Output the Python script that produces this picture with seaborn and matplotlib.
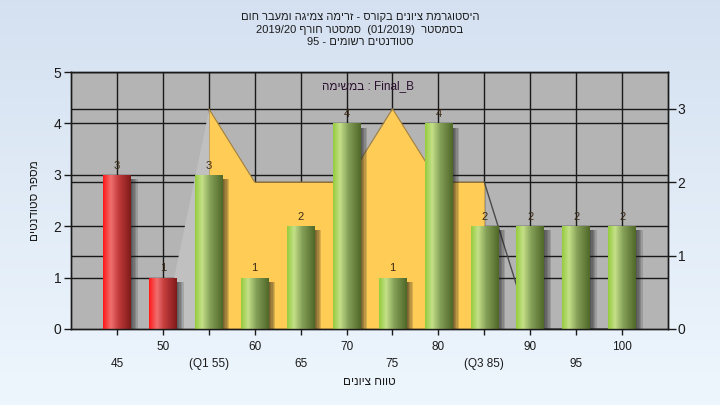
import re
import numpy as np
import pandas as pd
import matplotlib
matplotlib.use('Agg')
import matplotlib.pyplot as plt
import matplotlib.patheffects as pe
import matplotlib.transforms as mtransforms
import seaborn as sns

# data
score_labels = ['45', '50', '(Q1 55)', '60', '65', '70', '75', '80', '(Q3 85)', '90', '95', '100']
score_values = [45, 50, 55, 60, 65, 70, 75, 80, 85, 90, 95, 100]
counts = [3, 1, 3, 1, 2, 4, 1, 4, 2, 2, 2, 2]
dist_values = [0, 0, 3, 2, 2, 2, 3, 2, 2, 0, 0, 0]   # right axis
q1_idx, q3_idx = 2, 8

title_lines = ['היסטוגרמת ציונים בקורס - זרימה צמיגה ומעבר חום',
               'בסמסטר  (01/2019)  סמסטר חורף 2019/20',
               'סטודנטים רשומים - 95']
task_text = 'Final_B : במשימה'
x_title = 'טווח ציונים'
y_title = 'מספר סטודנטים'


def rtl(s):
    # matplotlib has no bidi support: build the visual order by hand
    r = s[::-1].translate(str.maketrans('()', ')('))
    return re.sub(r'[A-Za-z0-9_/.]+', lambda m: m.group(0)[::-1], r)


sns.set_theme(style='white')
plt.rcParams['font.family'] = ['Liberation Sans', 'DejaVu Sans']

fig = plt.figure(figsize=(7.2, 4.05), dpi=100)

# figure background gradient
bg = fig.add_axes([0, 0, 1, 1], zorder=-10)
top_c = np.array([0.835, 0.882, 0.945])
bot_c = np.array([0.933, 0.965, 0.992])
g = np.linspace(0, 1, 256)[:, None, None]
bg.imshow(top_c + (bot_c - top_c) * g, aspect='auto', extent=[0, 1, 0, 1])
bg.axis('off')

ax = fig.add_axes([71 / 720, 1 - 329 / 405, 597 / 720, 257 / 405])
ax.set_facecolor('#b4b4b4')

df = pd.DataFrame({'score': score_labels, 'count': counts,
                   'fail': [v < 55 for v in score_values]})
colors = ['#e02020' if f else '#8cb048' for f in df['fail']]
sns.barplot(data=df, x='score', y='count', hue='score', palette=colors,
            legend=False, width=0.6, saturation=1, linewidth=0, ax=ax, zorder=3)
bars = sorted(ax.patches, key=lambda p: p.get_x())

ax2 = ax.twinx()
ax2.set_ylim(0, 3.5)
ax2.set_yticks([0, 1, 2, 3])

# grid: left scale, right scale and categories
x = np.arange(len(score_labels))
for v in range(1, 6):
    ax.axhline(v, color='k', lw=1, zorder=0.5)
for i in x:
    ax.axvline(i, color='k', lw=1, zorder=0.5)
blend = mtransforms.blended_transform_factory(ax.transAxes, ax2.transData)
for v in [1, 2, 3]:
    ax.plot([0, 1], [v, v], transform=blend, color='k', lw=1, zorder=0.5)

# distribution area on the right scale
dist = np.array(dist_values, dtype=float)
mid = slice(q1_idx, q3_idx + 1)
ax.fill_between(x[mid], 0, dist[mid], transform=ax2.transData,
                color='#ffcc55', lw=0, zorder=1)
ax.plot(x[mid], dist[mid], transform=ax2.transData, color='#a08040', lw=0.8, zorder=1.1)
ax.fill_between(x[:q1_idx + 1], 0, dist[:q1_idx + 1], transform=ax2.transData,
                color='#c0c0c0', lw=0, zorder=1)
ax.plot(x[q3_idx:], dist[q3_idx:], transform=ax2.transData, color='#4a4a4a', lw=1, zorder=1.1)


def cylinder(stops):
    pos = [s[0] for s in stops]
    t = np.linspace(0, 1, 64)
    cols = np.array([s[1] for s in stops]) / 255.0
    img = np.stack([np.interp(t, pos, cols[:, c]) for c in range(3)], axis=-1)
    return img[None, :, :]


red_img = cylinder([(0, (255, 24, 24)), (0.28, (240, 112, 112)), (0.55, (196, 60, 60)), (1, (128, 26, 26))])
green_img = cylinder([(0, (150, 204, 62)), (0.25, (196, 224, 136)), (0.55, (132, 160, 88)), (1, (80, 104, 40))])

shadow = [pe.SimplePatchShadow(offset=(k, -3), shadow_rgbFace='#1a1a1a', alpha=0.16)
          for k in (1, 2, 3, 4, 5)] + [pe.Normal()]
for patch, fail in zip(bars, df['fail']):
    x0, w, h = patch.get_x(), patch.get_width(), patch.get_height()
    patch.set_path_effects(shadow)
    im = ax.imshow(red_img if fail else green_img, extent=[x0, x0 + w, 0, h],
                   aspect='auto', interpolation='bilinear', zorder=3.2)
    im.set_clip_path(patch)

for cont in ax.containers:
    ax.bar_label(cont, padding=3, fontsize=8, color='#3c2a14', zorder=5)

ax.set_xlim(-1, 12)
ax.set_ylim(0, 5)
ax.set_yticks(range(6))
ax.set_xticks(x)
ax.set_xticklabels(score_labels, fontsize=8.5)

ax.tick_params(axis='x', bottom=True, length=4, width=1, color='k', labelcolor='k')
ax.tick_params(axis='y', left=True, length=5, width=1, color='k', labelcolor='k',
               labelsize=10, pad=2)
ax2.tick_params(axis='y', right=True, length=6, width=1, color='k', labelcolor='k',
                labelsize=10, pad=1)
for i, t in enumerate(ax.xaxis.get_major_ticks()):
    t.set_pad(17 if i % 2 == 0 else 5)

for a in (ax, ax2):
    for s in a.spines.values():
        s.set_color('k')
        s.set_linewidth(1)

ax.set_xlabel(rtl(x_title), fontsize=8.5, color='k')
ax.xaxis.set_label_coords(0.5, -0.183)
ax.set_ylabel(rtl(y_title), fontsize=8.5, color='k')
ax.yaxis.set_label_coords(-0.05, 0.5)
ax2.set_ylabel('')

ax.text(0.497, 0.945, rtl(task_text), transform=ax.transAxes, ha='center', va='center',
        fontsize=8.5, color='#2a1030', zorder=5)

for yp, line in zip([17, 30, 42], title_lines):
    fig.text(0.5, 1 - yp / 405, rtl(line), ha='center', va='center', fontsize=8, color='#1c1c1c')

fig.savefig('out.png', dpi=100)
